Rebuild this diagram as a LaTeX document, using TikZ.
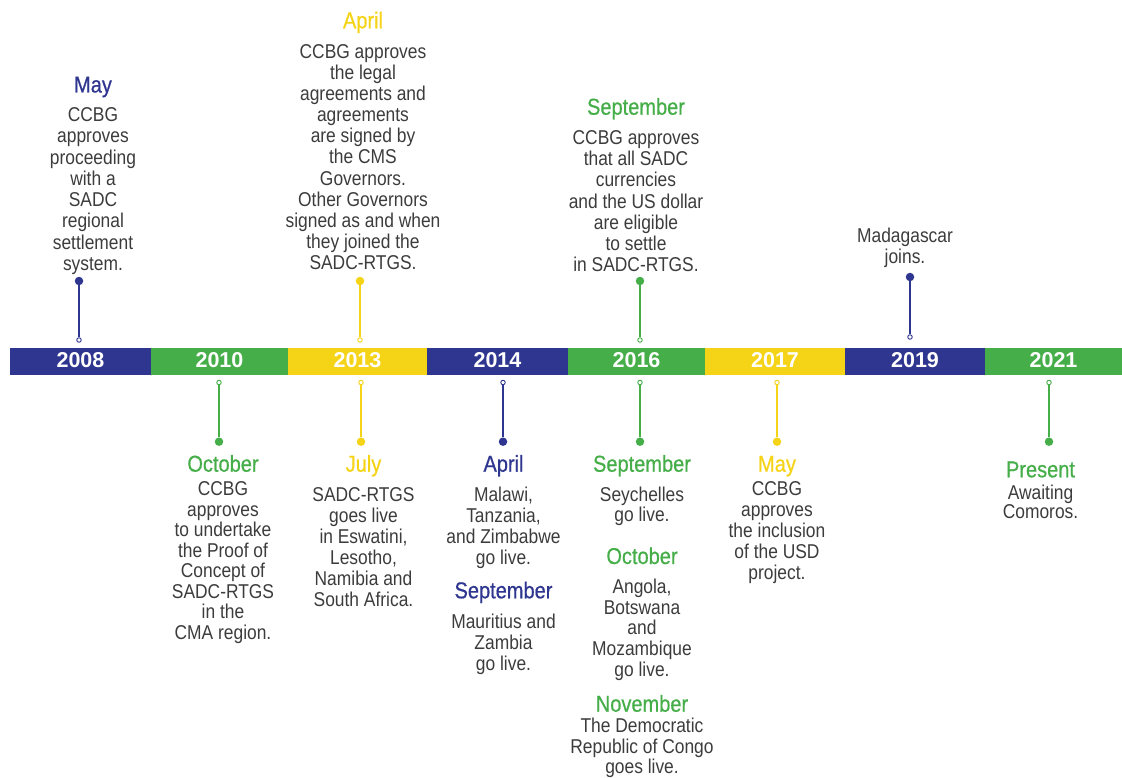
\documentclass[tikz,border=0pt]{standalone}
\usepackage{fontspec}
\setmainfont{Liberation Sans}
\newfontfamily\condfont{Liberation Sans}[FakeStretch=0.87]
\newfontfamily\headfamily{Liberation Sans}[FakeStretch=0.87,FakeBold=0.6]
\newcommand\bodyfont[1]{\condfont\fontsize{20}{#1}\selectfont}
\newcommand\monthfont{\headfamily\fontsize{23}{26}\selectfont}
\newcommand\yearfont{\bfseries\fontsize{21.5}{24}\selectfont}
\definecolor{sadcblue}{HTML}{2E368F}
\definecolor{sadcgreen}{HTML}{45AE49}
\definecolor{sadcyellow}{HTML}{F5D316}
\definecolor{txtgrey}{HTML}{3C3C3C}
\tikzset{
  yearlabel/.style={font=\yearfont, text=white, inner sep=0pt},
  monthlabel/.style={font=\monthfont, text=#1, anchor=base, inner sep=0pt},
  eventtext/.style={font=\bodyfont{#1}, text=txtgrey, align=center,
                    anchor=north, inner sep=0pt},
  eventtext/.default=20.8,
  stemdot/.style={circle, fill=#1, inner sep=0pt, minimum size=8.5pt},
  stemring/.style={circle, draw=#1, fill=white, line width=0.9pt,
                   inner sep=0pt, minimum size=4.5pt},
  stemline/.style={draw=#1, line width=1.1pt}
}
\begin{document}
\begin{tikzpicture}[
  x=1pt,
  y=-1pt,
]
\useasboundingbox (0,0) rectangle (1122,778);

\foreach [count=\i] \a/\b/\c/\y in
                  {10/151/sadcblue/2008,
                   151/288/sadcgreen/2010,
                   288/427/sadcyellow/2013,
                   427/568/sadcblue/2014,
                   568/705/sadcgreen/2016,
                   705/845/sadcyellow/2017,
                   845/985/sadcblue/2019,
                   985/1122/sadcgreen/2021}
  {
   \fill [\c] (\a,348) rectangle (\b,375);
   \node [yearlabel, name=y-\i] at ({(\a+\b)/2},359.7) {\y};
  }

\foreach [count=\i] \x/\a/\b/\c in
                  {79/281/340/sadcblue,
                   360/281/340/sadcyellow,
                   640/281/340/sadcgreen,
                   910/277/337/sadcblue,
                   219/441.7/382.5/sadcgreen,
                   361/441.7/382.5/sadcyellow,
                   503/441.7/382.5/sadcblue,
                   640/441.7/382.5/sadcgreen,
                   777/441.7/382.5/sadcyellow,
                   1049/441.7/382.5/sadcgreen}
  {
   \node [stemdot=\c, name=dot-\i] at (\x,\a) {};
   \node [stemring=\c, name=ring-\i] at (\x,\b) {};
   \draw [stemline=\c] (dot-\i) -- (ring-\i);
  }

% above the bar
\node [monthlabel=sadcblue] (may08) at (93,92.5) {May};
\node [eventtext=21.3] (txt08) at (93,107.3)
  {CCBG\\approves\\proceeding\\with a\\SADC\\regional\\settlement\\system.};
\node [monthlabel=sadcyellow] (apr13) at (363,28.3) {April};
\node [eventtext=21.1] (txt13) at (363,44.3)
  {CCBG approves\\the legal\\agreements and\\agreements\\are signed by\\the CMS\\Governors.\\Other Governors\\signed as and when\\they joined the\\SADC-RTGS.};
\node [monthlabel=sadcgreen] (sep16) at (636,114.7) {September};
\node [eventtext=21.3] (txt16) at (636,130)
  {CCBG approves\\that all SADC\\currencies\\and the US dollar\\are eligible\\to settle\\in SADC-RTGS.};
\node [eventtext=20.7] (txt19) at (905,228.3) {Madagascar\\joins.};

% below the bar
\node [monthlabel=sadcgreen] (oct10) at (223,471.7) {October};
\node [eventtext=20.5] (txt10) at (223,481.7)
  {CCBG\\approves\\to undertake\\the Proof of\\Concept of\\SADC-RTGS\\in the\\CMA region.};
\node [monthlabel=sadcyellow] (jul13) at (363.5,471.7) {July};
\node [eventtext=21] (txt13b) at (363.5,487.7)
  {SADC-RTGS\\goes live\\in Eswatini,\\Lesotho,\\Namibia and\\South Africa.};
\node [monthlabel=sadcblue] (apr14) at (503.5,471.7) {April};
\node [eventtext=21] (txt14a) at (503.5,486.7)
  {Malawi,\\Tanzania,\\and Zimbabwe\\go live.};
\node [monthlabel=sadcblue] (sep14) at (503.5,598.3) {September};
\node [eventtext] (txt14b) at (503.5,614) {Mauritius and\\Zambia\\go live.};
\node [monthlabel=sadcgreen] (sep16b) at (642,471.7) {September};
\node [eventtext=20] (txt16a) at (642,486.7) {Seychelles\\go live.};
\node [monthlabel=sadcgreen] (oct16) at (642,564) {October};
\node [eventtext] (txt16b) at (642,578.7)
  {Angola,\\Botswana\\and\\Mozambique\\go live.};
\node [monthlabel=sadcgreen] (nov16) at (642,711.7) {November};
\node [eventtext=20.5] (txt16c) at (642,718.3)
  {The Democratic\\Republic of Congo\\goes live.};
\node [monthlabel=sadcyellow] (may17) at (777,471.7) {May};
\node [eventtext] (txt17) at (777,481.7)
  {CCBG\\approves\\the inclusion\\of the USD\\project.};
\node [monthlabel=sadcgreen] (pres21) at (1040.5,477.3) {Present};
\node [eventtext=19.3] (txt21) at (1040.5,485) {Awaiting\\Comoros.};

\end{tikzpicture}
\end{document}
